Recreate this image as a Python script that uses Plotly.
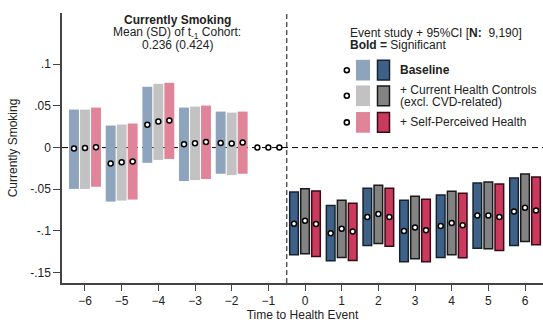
import plotly.graph_objects as go

# ---------------- data ----------------
periods = [-6, -5, -4, -3, -2, -1, 0, 1, 2, 3, 4, 5, 6]
model_names = ["Baseline", "+ Current Health Controls<br>(excl. CVD-related)", "+ Self-Perceived Health"]

base_est = [-0.001, -0.019, 0.0274, 0.0039, 0.0055, 0.0, -0.0913, -0.1028, -0.0833, -0.1000, -0.0941, -0.0814, -0.0766]
base_lo = [-0.0496, -0.0648, -0.0183, -0.0401, -0.0314, None, -0.1286, -0.1357, -0.1175, -0.1369, -0.1318, -0.1207, -0.1175]
base_hi = [0.0456, 0.0265, 0.0730, 0.0480, 0.0432, None, -0.0532, -0.0695, -0.0488, -0.0631, -0.0568, -0.0425, -0.0365]

ctrl_est = [-0.0005, -0.0175, 0.0313, 0.0051, 0.0048, 0.0, -0.0877, -0.0973, -0.0798, -0.0960, -0.0905, -0.0814, -0.0723]
ctrl_lo = [-0.0496, -0.0636, -0.0148, -0.0390, -0.0330, None, -0.1274, -0.1318, -0.1151, -0.1333, -0.1286, -0.1215, -0.1127]
ctrl_hi = [0.0456, 0.0277, 0.0765, 0.0492, 0.0420, None, -0.0493, -0.0631, -0.0452, -0.0583, -0.0524, -0.0413, -0.0318]

sph_est = [0.0003, -0.0167, 0.0325, 0.0067, 0.0060, 0.0, -0.0917, -0.1008, -0.0833, -0.0992, -0.0933, -0.0833, -0.0754]
sph_lo = [-0.0470, -0.0624, -0.0136, -0.0377, -0.0314, None, -0.1306, -0.1354, -0.1183, -0.1369, -0.1322, -0.1235, -0.1167]
sph_hi = [0.0480, 0.0289, 0.0777, 0.0504, 0.0432, None, -0.0520, -0.0667, -0.0488, -0.0619, -0.0548, -0.0437, -0.0353]

x_ticks = [-6, -5, -4, -3, -2, -1, 0, 1, 2, 3, 4, 5, 6]
y_tickvals = [0.1, 0.05, 0, -0.05, -0.1, -0.15]
y_ticktext = [".1", ".05", "0", "-.05", "-.1", "-.15"]

# ---------------- styles ----------------
FONT = "Liberation Sans, Arial, Helvetica, sans-serif"
light_cols = ["#8EA4BD", "#C2C2C2", "#E0849A"]
dark_cols = ["#3E6287", "#838383", "#C93A5C"]
edge_cols = ["#16222F", "#1A1A1A", "#3A0A18"]
offsets = [-0.3, 0.0, 0.3]

models = [(base_est, base_lo, base_hi), (ctrl_est, ctrl_lo, ctrl_hi), (sph_est, sph_lo, sph_hi)]

fig = go.Figure()

for m, (est, lo, hi) in enumerate(models):
    xs, bases, heights, colors, lcolors, lwidths, widths = [], [], [], [], [], [], []
    for p, l, h in zip(periods, lo, hi):
        if l is None:
            continue
        sig = (h < 0) or (l > 0)
        xs.append(p + offsets[m])
        bases.append(l)
        heights.append(h - l)
        colors.append(dark_cols[m] if sig else light_cols[m])
        lcolors.append(edge_cols[m] if sig else light_cols[m])
        lwidths.append(1.5 if sig else 0)
        widths.append(0.235 if sig else 0.27)
    fig.add_trace(go.Bar(
        x=xs, y=heights, base=bases, width=widths,
        marker=dict(color=colors, line=dict(color=lcolors, width=lwidths)),
        showlegend=False, hoverinfo="skip",
    ))

for m, (est, lo, hi) in enumerate(models):
    fig.add_trace(go.Scatter(
        x=[p + offsets[m] for p in periods], y=est, mode="markers",
        marker=dict(symbol="circle", size=5, color="white", line=dict(color="black", width=1.5)),
        showlegend=False, hoverinfo="skip",
    ))

# reference lines
fig.add_hline(y=0, line=dict(color="black", width=1, dash="6px,4px"), layer="below")
fig.add_vline(x=-0.5, line=dict(color="#555555", width=1.5, dash="5px,3px"), layer="below")

# ---------------- layout ----------------
L, R, T, B = 62, 0, 13, 35
W, H = 543, 322
pw, ph = W - L - R, H - T - B

def px(x):
    return (x - L) / pw

def py(y):
    return (H - B - y) / ph

fig.update_layout(
    width=W, height=H,
    margin=dict(l=L, r=R, t=T, b=B),
    plot_bgcolor="white", paper_bgcolor="white",
    barmode="overlay",
    font=dict(family=FONT, size=12, color="#222222"),
    showlegend=False,
    xaxis=dict(
        range=[-6.627, 6.49], tickvals=x_ticks, ticks="outside", ticklen=6,
        tickcolor="#444444", tickwidth=1.3, showline=True, linecolor="#444444", linewidth=1.5,
        showgrid=False, zeroline=False, tickfont=dict(size=12, family=FONT, color="#222222"),
        title=dict(text="Time to Health Event", font=dict(size=12, family=FONT, color="#222222"), standoff=5),
    ),
    yaxis=dict(
        range=[-0.1625, 0.1615], tickvals=y_tickvals, ticktext=y_ticktext, ticks="outside",
        ticklen=7, tickcolor="#444444", tickwidth=1.3, showline=True, linecolor="#444444",
        linewidth=1.5, showgrid=False, zeroline=False,
        tickfont=dict(size=12, family=FONT, color="#222222"),
        title=dict(text="Currently Smoking", font=dict(size=12, family=FONT, color="#222222"), standoff=10),
    ),
)

ann = []
def text(x, y, s, anchor="left", size=12):
    ann.append(dict(xref="paper", yref="paper", x=px(x), y=py(y), text=s, showarrow=False,
                    xanchor=anchor, yanchor="middle", font=dict(family=FONT, size=size, color="#222222")))

# title block
text(177, 20, "<b>Currently Smoking</b>", "center")
text(177, 33, "Mean (SD) of t<sub>-1</sub> Cohort:", "center")
text(177, 45, "0.236 (0.424)", "center")

# legend header
text(348, 33, "Event study + 95%CI [<b>N:</b>  9,190]")
text(348, 45, "<b>Bold =</b> Significant")

# legend rows
row_centers = [71, 97, 124]
shapes = []
for m in range(3):
    yc = row_centers[m]
    shapes.append(dict(type="circle", xref="paper", yref="paper",
                       x0=px(344.3), x1=px(349.3), y0=py(yc + 2.5), y1=py(yc - 2.5),
                       line=dict(color="black", width=1.6), fillcolor="white"))
    shapes.append(dict(type="rect", xref="paper", yref="paper",
                       x0=px(356), x1=px(370), y0=py(yc + 10.5), y1=py(yc - 10.5),
                       line=dict(width=0), fillcolor=light_cols[m]))
    shapes.append(dict(type="rect", xref="paper", yref="paper",
                       x0=px(377.5), x1=px(389.5), y0=py(yc + 10), y1=py(yc - 10),
                       line=dict(color=edge_cols[m], width=1.5), fillcolor=dark_cols[m]))

text(398, 71, "<b>Baseline</b>")
text(398, 91, "+ Current Health Controls")
text(398, 103, "(excl. CVD-related)")
text(398, 124, "+ Self-Perceived Health")

fig.update_layout(annotations=ann)
for s in shapes:
    fig.add_shape(**s)

fig.write_html("out.html")
